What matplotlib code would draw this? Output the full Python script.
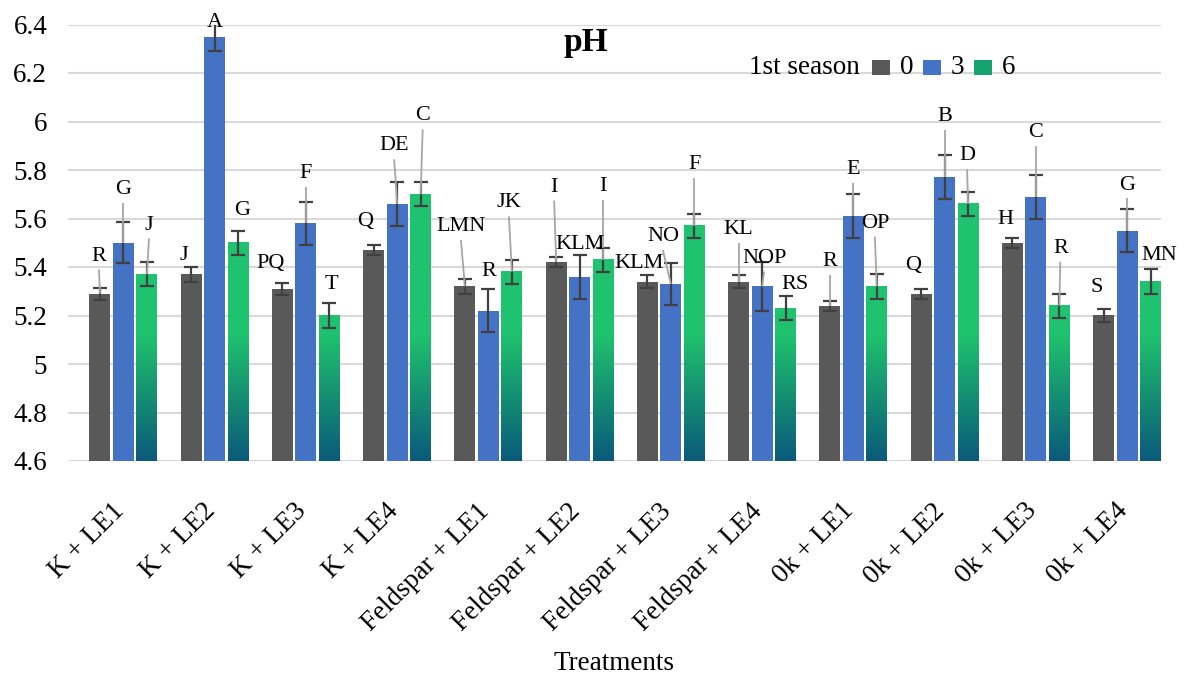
import numpy as np
import matplotlib
matplotlib.use('Agg')
import matplotlib.pyplot as plt
from matplotlib.colors import LinearSegmentedColormap, Normalize
from matplotlib.patches import Rectangle
from matplotlib.transforms import ScaledTranslation

plt.rcParams['font.family'] = ['Liberation Serif', 'DejaVu Serif']

# data
treatments = ['K + LE1', 'K + LE2', 'K + LE3', 'K + LE4',
              'Feldspar + LE1', 'Feldspar + LE2', 'Feldspar + LE3', 'Feldspar + LE4',
              '0k + LE1', '0k + LE2', '0k + LE3', '0k + LE4']
series = ['0', '3', '6']

ph_0 = [5.29, 5.37, 5.31, 5.47, 5.32, 5.42, 5.34, 5.34, 5.24, 5.29, 5.50, 5.20]
ph_3 = [5.50, 6.35, 5.58, 5.66, 5.22, 5.36, 5.33, 5.32, 5.61, 5.77, 5.69, 5.55]
ph_6 = [5.37, 5.50, 5.20, 5.70, 5.38, 5.43, 5.57, 5.23, 5.32, 5.66, 5.24, 5.34]

err_0 = [0.025, 0.03, 0.025, 0.02, 0.03, 0.02, 0.025, 0.025, 0.02, 0.02, 0.02, 0.025]
err_3 = [0.085, 0.06, 0.09, 0.09, 0.09, 0.09, 0.085, 0.1, 0.09, 0.09, 0.09, 0.09]
err_6 = [0.05] * 12

letters_0 = ['R', 'J', 'PQ', 'Q', 'LMN', 'I', 'KLM', 'KL', 'R', 'Q', 'H', 'S']
letters_3 = ['G', 'A', 'F', 'DE', 'R', 'KLM', 'NO', 'NOP', 'E', 'B', 'C', 'G']
letters_6 = ['J', 'G', 'T', 'C', 'JK', 'I', 'F', 'RS', 'OP', 'D', 'R', 'MN']

# where the letter labels sit (y in pH units, x shift in pixels) and leader lines
lab_y_0 = [5.445, 5.449, 5.415, 5.587, 5.566, 5.729, 5.415, 5.553, 5.422, 5.408, 5.594, 5.316]
lab_y_3 = [5.720, 6.407, 5.786, 5.899, 5.381, 5.491, 5.525, 5.436, 5.803, 6.019, 5.953, 5.738]
lab_y_6 = [5.573, 5.635, 5.326, 6.023, 5.664, 5.731, 5.821, 5.326, 5.580, 5.858, 5.477, 5.449]
lab_dx_0 = [-1, -7, -12, -9, -4, -2, -8, 0, 0, -8, -7, -7]
lab_dx_3 = [0, 0, 0, -3, 0, 0, -8, 2, 0, 0, 0, 0]
lab_dx_6 = [2, 4, 2, 2, -3, 0, 0, 9, -2, -1, 1, 9]
lead_0 = [1, 0, 0, 0, 1, 1, 0, 1, 1, 0, 0, 0]
lead_3 = [1, 0, 1, 1, 0, 0, 1, 1, 1, 1, 1, 1]
lead_6 = [1, 0, 0, 1, 1, 1, 1, 0, 1, 1, 1, 0]

colors = ['#595959', '#4472C4', '#1FC26F']
green_cmap = LinearSegmentedColormap.from_list('gr', ['#0A5A7B', '#148E72', '#1FC26F'])

W, H = 1187, 676
fig = plt.figure(figsize=(W / 100, H / 100), dpi=100)
ax = fig.add_axes([68 / W, 1 - 461 / H, (1161 - 68) / W, (461 - 24.5) / H])

x = np.arange(len(treatments))
step = 0.2575
width = 0.23
px = 91.27  # pixels per category

vals = [ph_0, ph_3, ph_6]
errs = [err_0, err_3, err_6]
letters = [letters_0, letters_3, letters_6]
lab_y = [lab_y_0, lab_y_3, lab_y_6]
lab_dx = [lab_dx_0, lab_dx_3, lab_dx_6]
leads = [lead_0, lead_3, lead_6]

base = 4.6
for k in range(3):
    xs = x + (k - 1) * step
    v = np.array(vals[k])
    fc = colors[k] if k < 2 else 'none'
    bars = ax.bar(xs, v - base, width, bottom=base, color=fc, zorder=2)
    if k == 2:
        # green series has a vertical gradient down to teal
        for p in bars.patches:
            x0 = p.get_x()
            top = p.get_y() + p.get_height()
            grad = np.linspace(top, base, 200)[:, None]
            ax.imshow(grad, extent=[x0, x0 + p.get_width(), base, top],
                      cmap=green_cmap, norm=Normalize(4.6, 5.12),
                      aspect='auto', origin='upper', zorder=2)
    ax.errorbar(xs, v, yerr=errs[k], fmt='none', ecolor='#404040',
                elinewidth=1.6, capsize=5, capthick=1.6, zorder=3)
    for i in range(len(x)):
        lx = xs[i] + lab_dx[k][i] / px
        ly = lab_y[k][i]
        if leads[k][i]:
            ax.plot([lx, xs[i]], [ly - 0.055, v[i]], color='#a6a6a6',
                    lw=1.3, zorder=4, solid_capstyle='butt')
        ax.text(lx, ly, letters[k][i], ha='center', va='center',
                fontsize=16, zorder=5, clip_on=False)

ax.set_xlim(-0.608, 11.372)
ax.set_ylim(4.6, 6.4)
yt = np.round(np.arange(4.6, 6.41, 0.2), 1)
ax.set_yticks(yt, ['%g' % t for t in yt])
ax.set_xticks(x, treatments, rotation=45, ha='right', rotation_mode='anchor')
ax.tick_params(axis='y', length=0, pad=15, labelsize=19.5)
ax.tick_params(axis='x', length=0, pad=27, labelsize=19.5)
shift = ScaledTranslation(-12 / 100, 0, fig.dpi_scale_trans)
for lab in ax.get_xticklabels():
    lab.set_transform(lab.get_transform() + shift)
ax.grid(axis='y', color='#d9d9d9', lw=1.5)
ax.set_axisbelow(True)
for s in ax.spines.values():
    s.set_visible(False)

fig.text(585.5 / W, 1 - 43 / H, 'pH', ha='center', va='center',
         fontsize=24, fontweight='bold')
fig.text(614.5 / W, 1 - 663 / H, 'Treatments', ha='center', va='center',
         fontsize=19.5)

# legend drawn by hand: title on the left, then the three swatches
fig.text(749 / W, 1 - 67.5 / H, '1st season', ha='left', va='center', fontsize=19.5)
for k, name in enumerate(series):
    bx = 872 + 51 * k
    fc = colors[k] if k < 2 else '#17A371'
    fig.patches.append(Rectangle((bx / W, 1 - 75 / H), 18 / W, 15 / H,
                                 transform=fig.transFigure, facecolor=fc,
                                 edgecolor='none'))
    fig.text((bx + 28) / W, 1 - 67.5 / H, name, ha='left', va='center',
             fontsize=19.5)

fig.savefig('out.png', dpi=100)
